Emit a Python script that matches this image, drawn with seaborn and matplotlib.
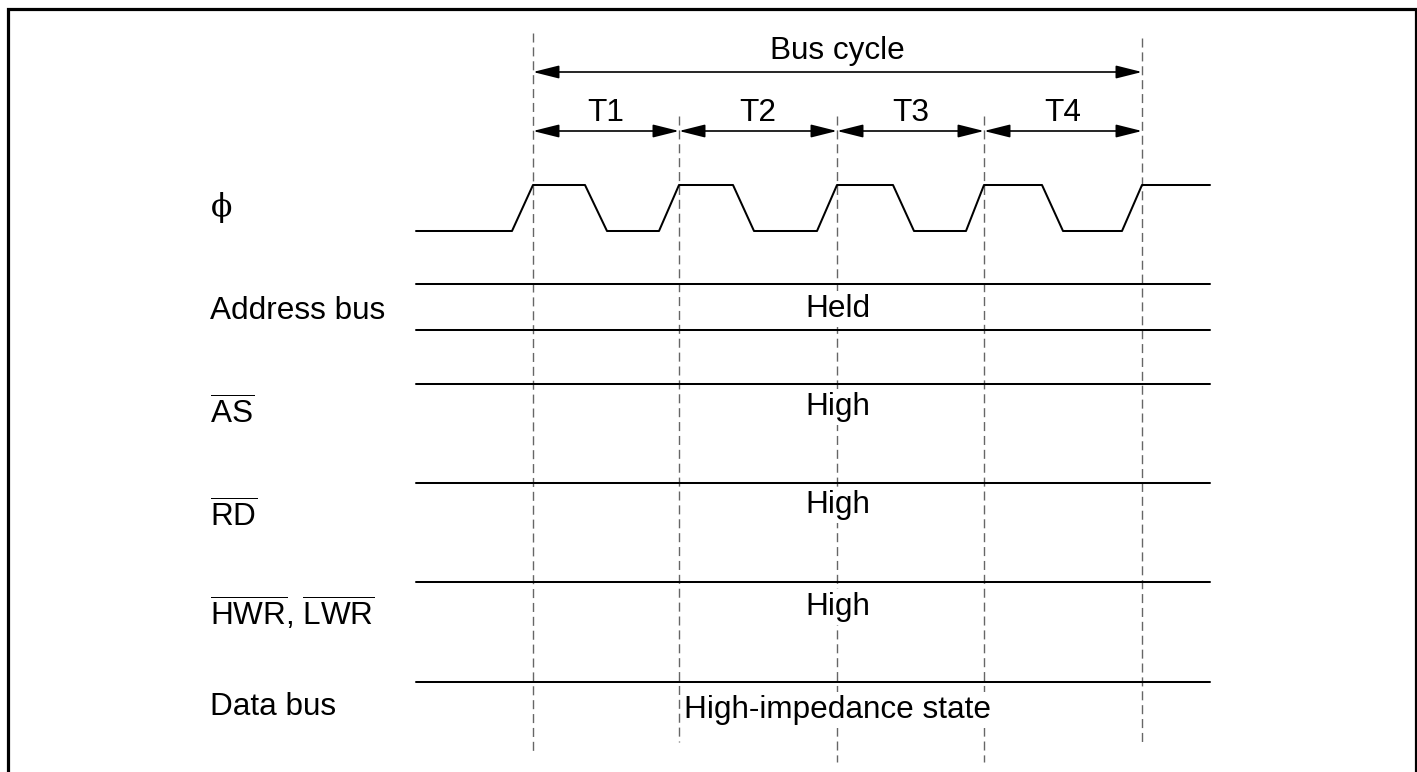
import matplotlib
matplotlib.use("Agg")
import matplotlib.pyplot as plt
import seaborn as sns

# clock waveform: break points along the time axis and level (1 = high)
clock_t = [416, 512, 533, 585, 607, 659, 679, 733, 754, 817, 837,
           893, 914, 966, 984, 1042, 1063, 1122, 1142, 1210]
clock_lvl = [0, 0, 1, 1, 0, 0, 1, 1, 0, 0, 1, 1, 0, 0, 1, 1, 0, 0, 1, 1]

# state boundaries (dashed guides) and names
state_edges = [533, 679, 837, 984, 1142]
state_names = ["T1", "T2", "T3", "T4"]
dash_top = [33, 116, 116, 116, 38]
dash_bottom = [754, 742, 762, 762, 745]

# signal rows
signal_names = [
    "Address bus",
    r"$\overline{\mathrm{AS}}$",
    r"$\overline{\mathrm{RD}}$",
    r"$\overline{\mathrm{HWR}}$, $\overline{\mathrm{LWR}}$",
    "Data bus",
]
signal_states = ["Held", "High", "High", "High", "High-impedance state"]
signal_lines = [[284, 330], [384], [483], [582], [682]]

# layout (pixel space)
W, H = 1417, 772
x_lbl = 210
x_wave0, x_wave1 = 416, 1210
y_clk_hi, y_clk_lo = 185, 231
lbl_base = [319, 424, 527, 625, 715]
state_base = [317, 415, 513, 615, 718]

sns.set_theme(style="white")
plt.rcParams["font.family"] = ["Liberation Sans", "DejaVu Sans"]
plt.rcParams["text.color"] = "black"
plt.rcParams["mathtext.fontset"] = "custom"
plt.rcParams["mathtext.rm"] = "Liberation Sans"
plt.rcParams["mathtext.it"] = "Liberation Sans:italic"
plt.rcParams["mathtext.bf"] = "Liberation Sans:bold"
plt.rcParams["lines.scale_dashes"] = False

fig = plt.figure(figsize=(W / 100, H / 100), dpi=100)
ax = fig.add_axes([0, 0, 1, 1])
ax.set_xlim(0, W)
ax.set_ylim(H, 0)
ax.axis("off")

fs = 22.7
lw = 1.45

# frame (bottom edge cut off)
ax.plot([7.5, 7.5, 1415.5, 1415.5], [H, 9, 9, H], color="black", lw=2.3,
        solid_joinstyle="miter")

# dashed state guides
for x, y0, y1 in zip(state_edges, dash_top, dash_bottom):
    ax.plot([x, x], [y0, y1], color="#666666", lw=1.0, ls=(0, (6.5, 3.5)),
            zorder=1)

# bus cycle / state arrows
aprops = dict(arrowstyle="<|-|>,head_length=0.8,head_width=0.2",
              mutation_scale=20, lw=1.2, color="black",
              shrinkA=0, shrinkB=0)
ax.annotate("", xy=(state_edges[-1], 72), xytext=(state_edges[0], 72),
            arrowprops=aprops)
ax.text((state_edges[0] + state_edges[-1]) / 2, 59, "Bus cycle",
        ha="center", va="baseline", fontsize=fs)
for i, name in enumerate(state_names):
    a, b = state_edges[i], state_edges[i + 1]
    ax.annotate("", xy=(b, 131), xytext=(a, 131), arrowprops=aprops)
    ax.text((a + b) / 2, 121, name, ha="center", va="baseline", fontsize=fs)

# clock
clk_y = [y_clk_hi if v else y_clk_lo for v in clock_lvl]
sns.lineplot(x=clock_t, y=clk_y, sort=False, estimator=None,
             color="black", lw=lw, ax=ax)
ax.text(x_lbl + 1, 216, "\u03d5", ha="left", va="baseline", fontsize=fs,
        family=["DejaVu Serif"])

# held signals
x_mid = (state_edges[0] + state_edges[-1]) / 2
for name, state, ys, b1, b2 in zip(signal_names, signal_states, signal_lines,
                                   lbl_base, state_base):
    for y in ys:
        ax.plot([x_wave0, x_wave1], [y, y], color="black", lw=lw, zorder=2)
    ax.text(x_lbl, b1, name, ha="left", va="baseline", fontsize=fs)
    ax.text(x_mid, b2, state, ha="center", va="baseline", fontsize=fs,
            zorder=3, bbox=dict(facecolor="white", edgecolor="none", pad=2))

fig.savefig("out.png", dpi=100)
